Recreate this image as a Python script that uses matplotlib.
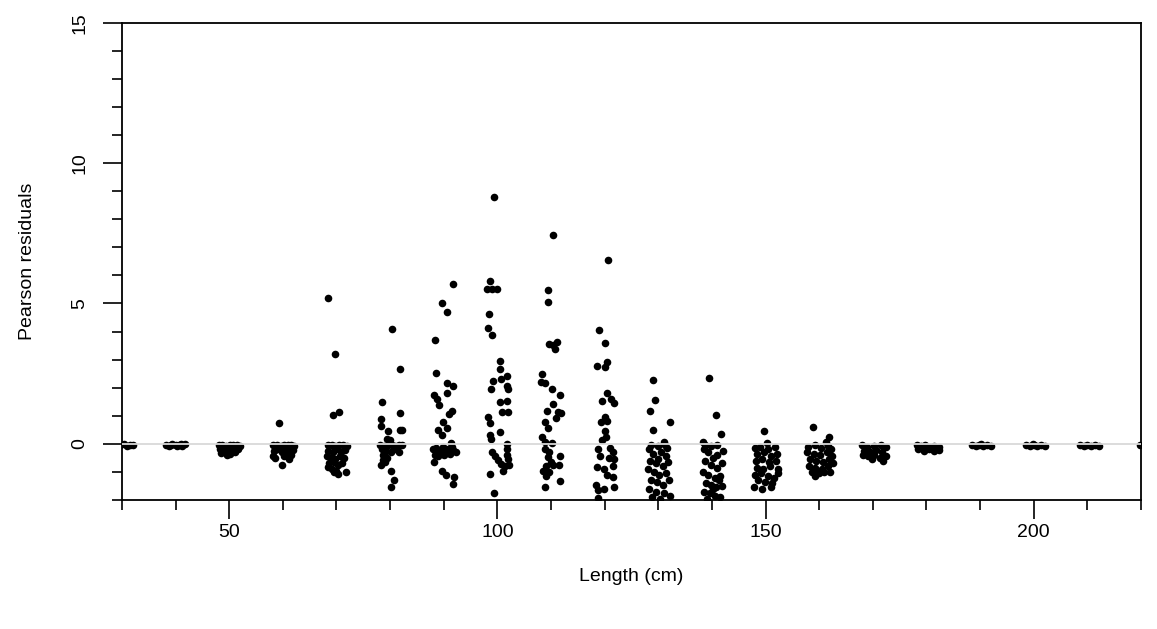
import numpy as np
import matplotlib
matplotlib.use("Agg")
from matplotlib import pyplot as plt
from matplotlib.ticker import MultipleLocator

# (length, residual) pairs, one list per length class
bin_030 = [(28.8, -0.03), (29.6, -0.05), (30.3, -0.02), (30.9, -0.06), (31.5, -0.03), (32.0, -0.05)]
bin_040 = [(38.2, -0.03), (38.8, -0.06), (39.4, -0.02), (40.0, -0.05), (40.6, -0.03), (41.2, -0.06),
           (41.7, -0.02), (39.1, -0.04), (40.3, -0.07), (41.0, -0.01)]
bin_050 = [(48.1, -0.05), (48.7, -0.04), (49.4, -0.06), (50.1, -0.05), (50.8, -0.04), (51.5, -0.05),
           (52.0, -0.06), (48.3, -0.2), (48.5, -0.32), (49.1, -0.25), (49.8, -0.15), (50.6, -0.22),
           (51.0, -0.3), (51.7, -0.18), (50.2, -0.35), (49.5, -0.38)]
bin_060 = [(59.2, 0.73), (58.2, -0.05), (58.9, -0.04), (59.6, -0.06), (60.3, -0.05), (61.0, -0.04),
           (61.6, -0.05), (62.0, -0.06), (58.4, -0.25), (59.1, -0.2), (59.9, -0.3), (60.6, -0.18),
           (61.3, -0.28), (61.9, -0.22), (58.1, -0.45), (58.6, -0.5), (60.2, -0.42), (61.1, -0.55),
           (61.6, -0.4), (59.8, -0.75), (60.8, -0.35)]
bin_070 = [(68.4, 5.18), (69.7, 3.2), (69.4, 1.03), (70.5, 1.12), (68.4, -0.05), (69.1, -0.04),
           (69.8, -0.06), (70.5, -0.05), (71.2, -0.04), (71.9, -0.06), (68.5, -0.25), (69.3, -0.3),
           (70.1, -0.2), (70.9, -0.28), (71.6, -0.22), (68.2, -0.45), (69.0, -0.5), (69.8, -0.55),
           (70.6, -0.42), (71.4, -0.5), (68.6, -0.7), (69.5, -0.65), (70.3, -0.75), (71.1, -0.68),
           (68.4, -0.82), (69.2, -0.9), (70.0, -0.95), (70.2, -1.09), (71.8, -1.0), (69.6, -1.02)]
bin_080 = [(80.3, 4.1), (81.9, 2.68), (78.5, 1.48), (81.9, 1.1), (78.3, 0.89), (78.3, 0.63),
           (79.7, 0.44), (81.9, 0.5), (82.3, 0.48), (79.4, 0.18), (79.9, 0.12), (78.2, -0.05),
           (78.9, -0.06), (79.6, -0.04), (80.3, -0.05), (81.0, -0.06), (81.7, -0.04), (82.2, -0.05),
           (78.4, -0.2), (79.3, -0.25), (80.1, -0.3), (80.9, -0.2), (81.6, -0.28), (78.6, -0.41),
           (78.6, -0.59), (78.3, -0.77), (79.1, -0.65), (80.2, -0.98), (80.8, -1.3), (80.1, -1.54),
           (79.4, -0.5)]
bin_090 = [(91.8, 5.71), (89.6, 5.02), (90.7, 4.7), (88.4, 3.71), (88.6, 2.53), (90.6, 2.16),
           (91.8, 2.05), (88.2, 1.74), (88.8, 1.6), (90.6, 1.8), (89.2, 1.38), (91.5, 1.18),
           (90.9, 1.06), (89.8, 0.77), (90.7, 0.56), (88.9, 0.51), (89.6, 0.3), (91.4, 0.04),
           (88.0, -0.2), (88.5, -0.15), (89.2, -0.25), (89.8, -0.1), (90.3, -0.3), (90.8, -0.2),
           (91.2, -0.35), (91.8, -0.22), (92.3, -0.28), (88.3, -0.4), (89.0, -0.45), (90.0, -0.38),
           (91.5, -0.1), (88.2, -0.63), (89.6, -0.98), (90.4, -1.12), (92.0, -1.18), (91.7, -1.42)]
bin_100 = [(99.4, 8.8), (98.7, 5.79), (98.0, 5.52), (99.0, 5.52), (100.0, 5.52), (98.5, 4.62),
           (98.2, 4.14), (99.0, 3.88), (100.5, 2.95), (100.5, 2.68), (100.6, 2.3), (99.1, 2.24),
           (98.8, 1.95), (101.8, 2.42), (101.8, 2.05), (101.9, 1.96), (100.5, 1.48), (101.8, 1.54),
           (100.8, 1.12), (101.9, 1.12), (98.3, 0.95), (98.6, 0.73), (98.6, 0.3), (98.8, 0.18),
           (100.5, 0.41), (101.8, 0.0), (101.8, -0.18), (99.0, -0.3), (99.6, -0.44), (100.1, -0.59),
           (100.6, -0.71), (101.4, -0.79), (102.1, -0.74), (101.0, -0.95), (101.8, -0.4),
           (102.0, -0.55), (98.7, -1.06), (99.4, -1.74)]
bin_110 = [(110.3, 7.45), (109.5, 5.47), (109.5, 5.05), (109.6, 3.55), (110.4, 3.51), (111.2, 3.63),
           (110.8, 3.37), (108.4, 2.48), (108.1, 2.21), (108.8, 2.16), (110.1, 1.95), (111.7, 1.75),
           (110.4, 1.42), (109.2, 1.18), (111.3, 1.14), (111.8, 1.1), (111.0, 0.91), (108.9, 0.77),
           (109.5, 0.56), (108.4, 0.24), (108.9, 0.08), (110.1, 0.04), (108.9, -0.18), (109.6, -0.3),
           (109.4, -0.47), (110.0, -0.63), (109.0, -0.79), (110.4, -0.74), (108.6, -0.95),
           (109.6, -1.0), (109.0, -1.15), (111.7, -0.44), (111.5, -0.77), (111.7, -1.34), (108.9, -1.54)]
bin_120 = [(120.6, 6.54), (119.0, 4.05), (120.0, 3.58), (118.6, 2.78), (120.0, 2.72), (120.4, 2.92),
           (120.4, 1.81), (119.6, 1.54), (121.2, 1.6), (121.8, 1.45), (120.0, 0.95), (120.4, 0.83),
           (119.4, 0.77), (120.0, 0.44), (120.2, 0.24), (119.6, 0.12), (118.8, -0.18), (121.0, -0.15),
           (121.6, -0.3), (119.2, -0.44), (120.8, -0.51), (121.8, -0.53), (118.6, -0.83),
           (119.8, -0.89), (121.6, -0.79), (120.4, -1.1), (121.6, -1.18), (118.3, -1.48),
           (118.7, -1.66), (119.8, -1.62), (121.8, -1.54), (118.7, -1.93)]
bin_130 = [(129.1, 2.27), (129.4, 1.56), (128.4, 1.16), (132.1, 0.79), (129.0, 0.51), (131.1, 0.08),
           (128.6, -0.05), (130.0, -0.06), (131.2, -0.05), (128.2, -0.2), (129.0, -0.35), (130.5, -0.3),
           (131.5, -0.45), (128.5, -0.6), (129.6, -0.7), (130.8, -0.8), (131.8, -0.65), (128.0, -0.9),
           (129.2, -1.0), (130.2, -1.1), (131.4, -1.05), (128.6, -1.3), (129.8, -1.35), (130.9, -1.45),
           (132.0, -1.3), (128.3, -1.6), (129.5, -1.7), (131.0, -1.75), (132.2, -1.85), (128.9, -1.9),
           (130.4, -1.95), (131.6, -0.15), (129.9, -0.55)]
bin_140 = [(139.5, 2.36), (140.8, 1.03), (141.7, 0.35), (138.3, 0.08), (142.1, -0.26),
           (138.7, -0.05), (139.8, -0.06), (140.9, -0.05), (138.5, -0.2), (139.3, -0.3),
           (140.3, -0.5), (141.0, -0.4), (138.8, -0.6), (139.8, -0.75), (140.9, -0.85), (141.8, -0.7),
           (138.3, -1.0), (139.2, -1.1), (140.5, -1.2), (141.5, -1.15), (138.9, -1.4), (139.9, -1.45),
           (140.8, -1.55), (141.9, -1.5), (138.6, -1.7), (139.6, -1.75), (140.6, -1.85),
           (141.6, -1.9), (139.1, -1.95), (140.2, -1.6), (141.3, -1.3)]
bin_150 = [(149.8, 0.47), (150.3, 0.04), (148.0, -0.15), (149.0, -0.1), (150.5, -0.2), (151.8, -0.12),
           (148.5, -0.35), (149.8, -0.3), (151.0, -0.45), (152.2, -0.35), (148.2, -0.6), (149.4, -0.55),
           (150.6, -0.65), (151.9, -0.6), (148.4, -0.85), (149.6, -0.9), (150.8, -0.8), (152.3, -0.9),
           (148.0, -1.1), (149.2, -1.05), (150.4, -1.15), (151.5, -1.2), (148.6, -1.3), (149.9, -1.35),
           (151.2, -1.4), (147.9, -1.54), (149.3, -1.62), (151.0, -1.54), (152.4, -1.05)]
bin_160 = [(158.9, 0.59), (161.9, 0.24), (161.2, 0.08), (158.0, -0.1), (159.2, -0.05), (160.4, -0.15),
           (161.6, -0.08), (162.3, -0.2), (157.8, -0.3), (159.0, -0.35), (160.2, -0.4), (161.4, -0.3),
           (162.4, -0.45), (158.3, -0.55), (159.5, -0.6), (160.7, -0.65), (161.9, -0.55), (158.1, -0.8),
           (159.3, -0.85), (160.5, -0.9), (161.7, -0.8), (162.5, -0.7), (158.7, -1.0), (159.9, -1.05),
           (160.9, -1.0), (159.2, -1.15), (162.1, -1.0)]
bin_170 = [(168.0, -0.05), (169.0, -0.1), (170.2, -0.08), (171.5, -0.05), (172.4, -0.12),
           (168.3, -0.25), (169.5, -0.3), (170.6, -0.22), (171.8, -0.3), (168.1, -0.4), (169.2, -0.45),
           (170.3, -0.4), (171.3, -0.5), (172.5, -0.45), (169.8, -0.55), (171.9, -0.6)]
bin_180 = [(178.2, -0.05), (179.0, -0.08), (179.8, -0.05), (180.6, -0.1), (181.4, -0.06),
           (182.3, -0.1), (178.5, -0.2), (179.5, -0.25), (180.5, -0.2), (181.5, -0.25), (182.4, -0.22)]
bin_190 = [(188.5, -0.04), (189.2, -0.07), (189.9, -0.03), (190.6, -0.06), (191.3, -0.04),
           (192.1, -0.07), (190.2, -0.02)]
bin_200 = [(198.6, -0.04), (199.3, -0.07), (200.0, -0.03), (200.7, -0.06), (201.4, -0.04),
           (202.2, -0.07), (199.8, -0.02)]
bin_210 = [(208.6, -0.04), (209.3, -0.07), (210.0, -0.03), (210.7, -0.06), (211.4, -0.04),
           (212.2, -0.07)]
bin_220 = [(219.8, -0.04), (220.5, -0.06), (221.2, -0.03)]

all_bins = [bin_030, bin_040, bin_050, bin_060, bin_070, bin_080, bin_090, bin_100, bin_110,
            bin_120, bin_130, bin_140, bin_150, bin_160, bin_170, bin_180, bin_190, bin_200,
            bin_210, bin_220]
pts = np.array([p for b in all_bins for p in b])

plt.rcParams['font.family'] = ['Liberation Sans', 'DejaVu Sans']

fig = plt.figure(figsize=(11.57, 6.29), dpi=100)
ax = fig.add_axes([0.1054, 0.2051, 0.8807, 0.7588])

ax.scatter(pts[:, 0], pts[:, 1], s=30, c='black', linewidths=0, zorder=2)
ax.axhline(0, color='#d9d9d9', linewidth=1.3, zorder=3)

ax.set_xlim(30, 220)
ax.set_ylim(-2, 15)

ax.xaxis.set_major_locator(MultipleLocator(50))
ax.xaxis.set_minor_locator(MultipleLocator(10))
ax.yaxis.set_major_locator(MultipleLocator(5))
ax.yaxis.set_minor_locator(MultipleLocator(1))

ax.tick_params(which='major', length=14, width=1.2, labelsize=14)
ax.tick_params(which='minor', length=7, width=1.2)
ax.tick_params(axis='x', which='major', pad=3)
ax.tick_params(axis='y', which='major', pad=10)
for lab in ax.get_yticklabels():
    lab.set_rotation(90)
    lab.set_verticalalignment('center')
for sp in ax.spines.values():
    sp.set_linewidth(1.3)

ax.set_xlabel('Length (cm)', fontsize=14, labelpad=20)
ax.set_ylabel('Pearson residuals', fontsize=14, labelpad=26)

fig.savefig('out.png', dpi=100)
